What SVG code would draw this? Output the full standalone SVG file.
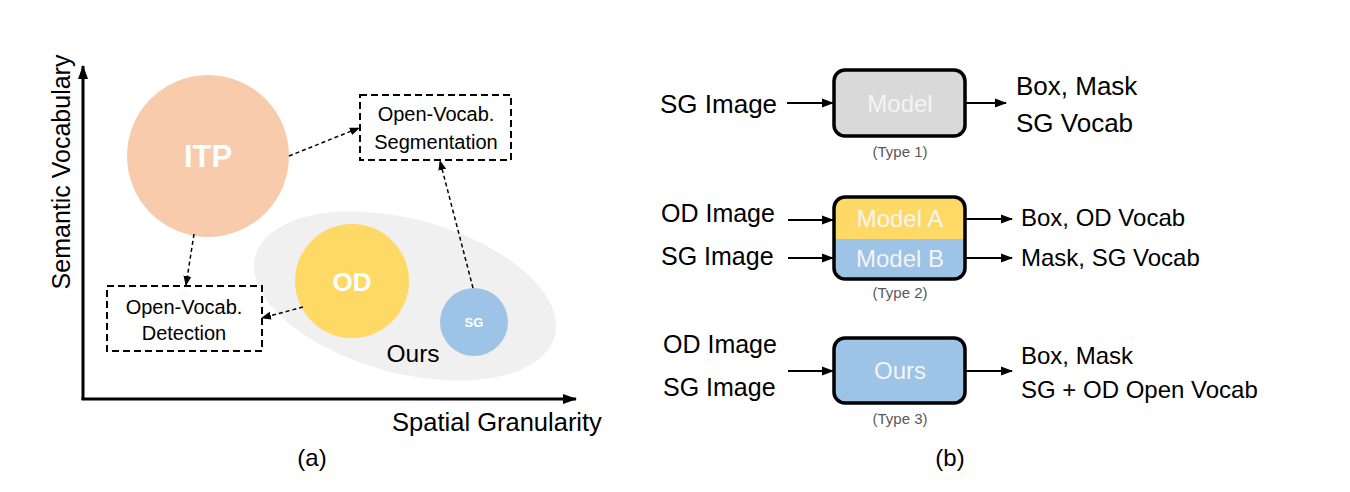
<svg xmlns="http://www.w3.org/2000/svg" width="1350" height="492" viewBox="0 0 1350 492">
<style>
text{font-family:"Liberation Sans",Arial,sans-serif;fill:#000}
.axis{stroke:#000;stroke-width:3;fill:none}
.dbox{fill:#fff;stroke:#000;stroke-width:2;stroke-dasharray:7,4}
.darr{stroke:#000;stroke-width:1.5;fill:none;stroke-dasharray:4,3}
.sarr{stroke:#000;stroke-width:2;fill:none}
.mbox{stroke:#000;stroke-width:3.5}
.lbl{font-size:20px;text-anchor:middle}
.cl{font-weight:bold;fill:#fff;text-anchor:middle}
.in{font-size:25px}
.out{font-size:24px}
.mt{font-size:24px;fill:#f4f4f4;text-anchor:middle}
.ty{font-size:15px;fill:#595959;text-anchor:middle}
.cap{font-size:24px;text-anchor:middle}
</style>
<defs>
<marker id="ah" markerWidth="10" markerHeight="10" refX="9" refY="5" orient="auto" markerUnits="userSpaceOnUse"><path d="M0,1 L10,5 L0,9 Z" fill="#000"/></marker>
<marker id="ahs" markerWidth="12" markerHeight="12" refX="11" refY="6" orient="auto" markerUnits="userSpaceOnUse"><path d="M0,1.5 L12,6 L0,10.5 Z" fill="#000"/></marker>
<marker id="ahx" markerWidth="14" markerHeight="14" refX="13" refY="7" orient="auto" markerUnits="userSpaceOnUse"><path d="M0,2 L14,7 L0,12 Z" fill="#000"/></marker>
<clipPath id="c2"><rect x="834" y="197" width="131" height="82" rx="11"/></clipPath>
</defs>

<!-- (a) panel -->
<g id="axes">
<line class="axis" x1="83" y1="400" x2="83" y2="66" marker-end="url(#ahx)"/>
<line class="axis" x1="81.5" y1="399" x2="576" y2="399" marker-end="url(#ahx)"/>
<text x="0" y="0" font-size="25" text-anchor="middle" transform="translate(70,172) rotate(-90)">Semantic Vocabulary</text>
<text x="497" y="431" font-size="25.5" text-anchor="middle">Spatial Granularity</text>
<text x="312" y="466" class="cap">(a)</text>
</g>

<g id="ours-region">
<ellipse cx="405" cy="296" rx="155" ry="77" transform="rotate(15 405 296)" fill="#f0f0f0"/>
<text x="413" y="362" font-size="24.5" text-anchor="middle">Ours</text>
</g>

<g id="itp">
<circle cx="208" cy="156" r="81" fill="#f8cbad"/>
<text x="208" y="167" class="cl" font-size="31">ITP</text>
</g>

<g id="od">
<circle cx="352" cy="281" r="57" fill="#ffd966"/>
<text x="352" y="291" class="cl" font-size="26">OD</text>
</g>

<g id="sg">
<circle cx="474" cy="322" r="34" fill="#9dc3e6"/>
<text x="474" y="327" class="cl" font-size="13">SG</text>
</g>

<g id="ov-seg">
<rect class="dbox" x="360" y="95" width="151" height="65"/>
<text x="436" y="121" class="lbl">Open-Vocab.</text>
<text x="436" y="149" class="lbl">Segmentation</text>
</g>

<g id="ov-det">
<rect class="dbox" x="107" y="286" width="155" height="65"/>
<text x="184" y="314" class="lbl">Open-Vocab.</text>
<text x="184" y="340" class="lbl">Detection</text>
</g>

<g id="connectors-a">
<line class="darr" x1="289" y1="156" x2="359" y2="128" marker-end="url(#ah)"/>
<line class="darr" x1="194" y1="234" x2="186" y2="285" marker-end="url(#ah)"/>
<line class="darr" x1="303" y1="307" x2="262" y2="318" marker-end="url(#ah)"/>
<line class="darr" x1="473" y1="288" x2="440" y2="161" marker-end="url(#ah)"/>
</g>

<!-- (b) panel -->
<g id="type1">
<rect class="mbox" x="834" y="70" width="131" height="66" rx="11" fill="#d9d9d9"/>
<text x="900" y="112" class="mt">Model</text>
<text x="900" y="157" class="ty">(Type 1)</text>
</g>
<g id="type1-io">
<text x="660" y="113" font-size="26">SG Image</text>
<text x="1016" y="95" font-size="26">Box, Mask</text>
<text x="1016" y="132" font-size="26">SG Vocab</text>
</g>

<g id="type2">
<g clip-path="url(#c2)">
<rect x="834" y="197" width="131" height="42" fill="#ffd966"/>
<rect x="834" y="239" width="131" height="40" fill="#9dc3e6"/>
</g>
<rect class="mbox" x="834" y="197" width="131" height="82" rx="11" fill="none"/>
<text x="900" y="227" class="mt">Model A</text>
<text x="900" y="267" class="mt">Model B</text>
<text x="900" y="298" class="ty">(Type 2)</text>
</g>
<g id="type2-io">
<text x="661" y="222" class="in">OD Image</text>
<text x="661" y="265" class="in">SG Image</text>
<text x="1021" y="226" class="out">Box, OD Vocab</text>
<text x="1021" y="266" class="out">Mask, SG Vocab</text>
</g>

<g id="type3">
<rect class="mbox" x="834" y="338" width="131" height="65" rx="11" fill="#9dc3e6"/>
<text x="900" y="379" class="mt">Ours</text>
<text x="900" y="424" class="ty">(Type 3)</text>
</g>
<g id="type3-io">
<text x="663" y="353" class="in">OD Image</text>
<text x="663" y="396" class="in">SG Image</text>
<text x="1021" y="364" class="out">Box, Mask</text>
<text x="1021" y="398" class="out">SG + OD Open Vocab</text>
</g>

<g id="connectors-b">
<line class="sarr" x1="787" y1="103" x2="833" y2="103" marker-end="url(#ahs)"/>
<line class="sarr" x1="966" y1="103" x2="1006" y2="103" marker-end="url(#ahs)"/>
<line class="sarr" x1="788" y1="220" x2="833" y2="220" marker-end="url(#ahs)"/>
<line class="sarr" x1="788" y1="258" x2="833" y2="258" marker-end="url(#ahs)"/>
<line class="sarr" x1="966" y1="219" x2="1012" y2="219" marker-end="url(#ahs)"/>
<line class="sarr" x1="966" y1="258" x2="1012" y2="258" marker-end="url(#ahs)"/>
<line class="sarr" x1="788" y1="371" x2="833" y2="371" marker-end="url(#ahs)"/>
<line class="sarr" x1="966" y1="371" x2="1012" y2="371" marker-end="url(#ahs)"/>
</g>

<text x="950" y="466" class="cap">(b)</text>
</svg>
